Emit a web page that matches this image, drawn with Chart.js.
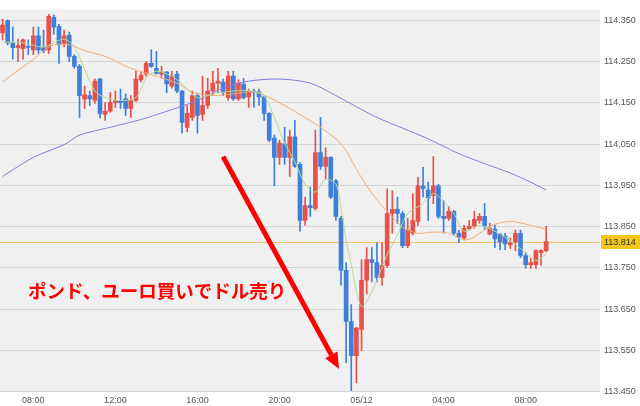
<!DOCTYPE html>
<html>
<head>
<meta charset="utf-8">
<script src="https://cdn.jsdelivr.net/npm/chart.js@4.4.1/dist/chart.umd.min.js"></script>
<style>
  html, body { margin: 0; padding: 0; background: #fff; }
</style>
</head>
<body>
<canvas id="chart" width="640" height="406"></canvas>
<script>
// 15 minute candles, USD/JPY, 06:30 -> 09:00 next day
const OPEN = [
  114.320, 114.350, 114.296, 114.284, 114.282, 114.287, 114.279, 114.313, 114.284, 114.279,
  114.358, 114.336, 114.294, 114.315, 114.263, 114.239, 114.160, 114.168, 114.156, 114.208,
  114.122, 114.130, 114.151, 114.156, 114.160, 114.137, 114.156, 114.206, 114.220, 114.246,
  114.234, 114.220, 114.225, 114.191, 114.220, 114.179, 114.091, 114.115, 114.168, 114.122,
  114.144, 114.179, 114.198, 114.201, 114.163, 114.215, 114.160, 114.196, 114.165, 114.179,
  114.177, 114.165, 114.125, 114.065, 114.018, 114.051, 114.018, 114.068, 114.001, 113.865,
  113.901, 113.894, 114.030, 113.996, 114.018, 113.961, 113.870, 113.744, 113.620, 113.537,
  113.601, 113.720, 113.770, 113.763, 113.727, 113.756, 113.882, 113.892, 113.882, 113.804,
  113.834, 113.863, 113.949, 113.939, 113.925, 113.949, 113.875, 113.870, 113.887, 113.834,
  113.823, 113.846, 113.851, 113.865, 113.875, 113.832, 113.844, 113.832, 113.827, 113.806,
  113.813, 113.834, 113.780, 113.758, 113.758, 113.787, 113.792
];
const HIGH = [
  114.353, 114.352, 114.334, 114.305, 114.305, 114.303, 114.334, 114.334, 114.327, 114.365,
  114.363, 114.341, 114.327, 114.322, 114.267, 114.244, 114.191, 114.179, 114.208, 114.210,
  114.151, 114.175, 114.179, 114.184, 114.172, 114.168, 114.227, 114.227, 114.251, 114.279,
  114.275, 114.239, 114.227, 114.227, 114.227, 114.181, 114.144, 114.179, 114.172, 114.215,
  114.210, 114.227, 114.234, 114.208, 114.227, 114.227, 114.206, 114.210, 114.184, 114.184,
  114.184, 114.168, 114.127, 114.072, 114.060, 114.091, 114.084, 114.108, 114.006, 113.922,
  113.946, 114.084, 114.115, 114.041, 114.020, 113.965, 113.875, 113.763, 113.661, 113.606,
  113.770, 113.799, 113.799, 113.811, 113.811, 113.942, 113.937, 113.922, 113.887, 113.870,
  113.930, 113.970, 113.994, 113.958, 114.020, 113.953, 113.913, 113.899, 113.889, 113.842,
  113.853, 113.865, 113.887, 113.882, 113.906, 113.858, 113.853, 113.834, 113.834, 113.823,
  113.842, 113.842, 113.787, 113.773, 113.794, 113.794, 113.851
];
const LOW = [
  114.303, 114.291, 114.256, 114.251, 114.256, 114.267, 114.267, 114.270, 114.272, 114.270,
  114.317, 114.246, 114.286, 114.251, 114.234, 114.115, 114.137, 114.144, 114.149, 114.113,
  114.108, 114.127, 114.139, 114.137, 114.120, 114.115, 114.154, 114.201, 114.215, 114.236,
  114.220, 114.210, 114.175, 114.186, 114.175, 114.077, 114.080, 114.108, 114.077, 114.108,
  114.137, 114.168, 114.175, 114.168, 114.156, 114.156, 114.156, 114.160, 114.139, 114.139,
  114.144, 114.108, 114.056, 113.949, 114.001, 114.001, 113.972, 113.994, 113.839, 113.853,
  113.875, 113.890, 113.989, 113.965, 113.918, 113.865, 113.708, 113.520, 113.452, 113.471,
  113.549, 113.687, 113.716, 113.716, 113.708, 113.751, 113.834, 113.858, 113.799, 113.799,
  113.830, 113.853, 113.922, 113.865, 113.906, 113.870, 113.834, 113.865, 113.830, 113.811,
  113.818, 113.842, 113.846, 113.858, 113.842, 113.830, 113.799, 113.794, 113.794, 113.797,
  113.792, 113.775, 113.749, 113.749, 113.749, 113.756, 113.789
];
const CLOSE = [
  114.339, 114.296, 114.284, 114.289, 114.303, 114.285, 114.313, 114.279, 114.277, 114.360,
  114.334, 114.291, 114.313, 114.263, 114.239, 114.168, 114.170, 114.160, 114.203, 114.125,
  114.130, 114.151, 114.156, 114.151, 114.137, 114.156, 114.208, 114.217, 114.246, 114.239,
  114.222, 114.225, 114.196, 114.215, 114.179, 114.103, 114.125, 114.168, 114.120, 114.144,
  114.179, 114.198, 114.203, 114.175, 114.215, 114.160, 114.198, 114.163, 114.179, 114.177,
  114.165, 114.125, 114.060, 114.018, 114.053, 114.018, 114.068, 113.996, 113.865, 113.901,
  113.896, 114.030, 113.996, 114.018, 113.922, 113.875, 113.744, 113.620, 113.537, 113.604,
  113.720, 113.770, 113.763, 113.727, 113.756, 113.882, 113.892, 113.882, 113.804, 113.842,
  113.865, 113.949, 113.942, 113.920, 113.949, 113.875, 113.870, 113.887, 113.834, 113.825,
  113.846, 113.851, 113.868, 113.875, 113.851, 113.846, 113.820, 113.813, 113.808, 113.811,
  113.834, 113.780, 113.758, 113.763, 113.792, 113.792, 113.814
];

// moving averages: [candle index, value]
const MA_FAST = [
  [0, 114.298], [4, 114.296], [8, 114.286], [12, 114.305], [14, 114.286], [16, 114.232],
  [18, 114.179], [20, 114.163], [23, 114.156], [26, 114.163], [28, 114.210], [30, 114.227],
  [33, 114.215], [35, 114.196], [38, 114.163], [41, 114.172], [45, 114.179], [49, 114.179],
  [51, 114.168], [53, 114.115], [55, 114.053], [57, 114.008], [59, 113.953], [61, 113.934],
  [63, 113.965], [65, 113.953], [66, 113.894], [67, 113.816], [68, 113.758], [69, 113.692],
  [70, 113.656], [71, 113.668], [73, 113.720], [75, 113.782], [77, 113.830], [79, 113.882],
  [82, 113.906], [84, 113.930], [86, 113.911], [88, 113.882], [90, 113.839], [93, 113.853],
  [96, 113.839], [99, 113.816], [102, 113.787], [104, 113.768], [106, 113.782]
];
const MA_MID = [
  [0, 114.201], [3, 114.229], [6, 114.256], [8, 114.277], [10, 114.291], [13, 114.291],
  [16, 114.277], [20, 114.263], [25, 114.234], [30, 114.215], [34, 114.198], [37, 114.177],
  [41, 114.168], [45, 114.172], [49, 114.177], [52, 114.163], [55, 114.144], [58, 114.122],
  [61, 114.099], [63, 114.082], [65, 114.063], [67, 114.034], [69, 113.989], [71, 113.949],
  [73, 113.915], [75, 113.887], [78, 113.849], [81, 113.834], [84, 113.837], [87, 113.834],
  [90, 113.818], [92, 113.825], [95, 113.851], [99, 113.863], [102, 113.856], [106, 113.844]
];
const MA_SLOW = [
  [0, 113.972], [6, 114.018], [12, 114.049], [15, 114.072], [21, 114.091], [27, 114.110],
  [33, 114.134], [38, 114.156], [43, 114.186], [48, 114.203], [54, 114.208], [60, 114.198],
  [65, 114.168], [69, 114.141], [73, 114.115], [78, 114.089], [83, 114.063], [89, 114.027],
  [94, 114.003], [99, 113.980], [103, 113.958], [106, 113.939]
];

const Y_TICKS = [113.45, 113.55, 113.65, 113.75, 113.85, 113.95, 114.05, 114.15, 114.25, 114.35];
const TICK_TIMES = ['08:00', '12:00', '16:00', '20:00', '00:00', '04:00'];
const DATE_LABEL = '05/12';
const CURRENT = 113.814;
const NOTE = 'ポンド、ユーロ買いでドル売り';

const START_MIN = 6 * 60 + 30;
const EMPTY_SLOTS = 10;
const labels = [];
for (let i = 0; i < OPEN.length + EMPTY_SLOTS; i++) {
  const m = (START_MIN + i * 15) % (24 * 60);
  labels.push(String(Math.floor(m / 60)).padStart(2, '0') + ':' + String(m % 60).padStart(2, '0'));
}

const RED = '#e8504a';
const BLUE = '#3f7fd9';
const colors = CLOSE.map((c, i) => c >= OPEN[i] ? RED : BLUE);

function toLine(points) {
  const arr = labels.map(() => null);
  points.forEach(([i, v]) => { arr[i] = v; });
  return arr;
}

const FONT = { family: '"Liberation Sans", Arial, sans-serif', size: 9 };

const decor = {
  id: 'decor',
  beforeDraw(chart) {
    const { ctx, chartArea: a } = chart;
    ctx.save();
    ctx.fillStyle = '#f0f0f0';
    ctx.fillRect(a.left, a.top, a.right - a.left, a.bottom - a.top);
    ctx.restore();
  },
  beforeDatasetsDraw(chart) {
    const { ctx, chartArea: a, scales } = chart;
    const y = Math.round(scales.y.getPixelForValue(CURRENT)) + 0.5;
    ctx.save();
    ctx.strokeStyle = '#f4c36c';
    ctx.lineWidth = 1;
    ctx.beginPath();
    ctx.moveTo(a.left, y);
    ctx.lineTo(a.right, y);
    ctx.stroke();
    ctx.restore();
  },
  afterDatasetsDraw(chart) {
    const { ctx, scales } = chart;
    const xs = scales.x, ys = scales.y;
    // arrow
    const x1 = xs.getPixelForValue(43), y1 = ys.getPixelForValue(114.02);
    const x2 = xs.getPixelForValue(65.6), y2 = ys.getPixelForValue(113.505);
    const ang = Math.atan2(y2 - y1, x2 - x1);
    const head = 16, half = 7;
    const bx = x2 - head * Math.cos(ang), by = y2 - head * Math.sin(ang);
    ctx.save();
    ctx.strokeStyle = '#ff0000';
    ctx.fillStyle = '#ff0000';
    ctx.lineWidth = 5;
    ctx.beginPath();
    ctx.moveTo(x1, y1);
    ctx.lineTo(bx, by);
    ctx.stroke();
    ctx.beginPath();
    ctx.moveTo(x2, y2);
    ctx.lineTo(bx + half * Math.sin(ang), by - half * Math.cos(ang));
    ctx.lineTo(bx - half * Math.sin(ang), by + half * Math.cos(ang));
    ctx.closePath();
    ctx.fill();
    // note
    ctx.font = 'bold 18.5px "Noto Sans CJK JP", sans-serif';
    ctx.textAlign = 'left';
    ctx.textBaseline = 'middle';
    ctx.fillText(NOTE, xs.getPixelForValue(4.95), ys.getPixelForValue(113.694));
    ctx.restore();
  },
  afterDraw(chart) {
    const { ctx, chartArea: a, scales } = chart;
    const y = scales.y.getPixelForValue(CURRENT);
    ctx.save();
    ctx.fillStyle = '#f6c61a';
    ctx.fillRect(a.right + 1, Math.round(y) - 7, chart.width - a.right - 1, 14);
    ctx.fillStyle = '#333';
    ctx.font = '9px ' + FONT.family;
    ctx.textAlign = 'left';
    ctx.textBaseline = 'middle';
    ctx.fillText(CURRENT.toFixed(3), a.right + 4, Math.round(y) + 0.5);
    ctx.restore();
  }
};

new Chart(document.getElementById('chart'), {
  data: {
    labels: labels,
    datasets: [
      {
        type: 'line', label: 'MA fast', data: toLine(MA_FAST), borderColor: '#b2de98',
        borderWidth: 1, pointRadius: 0, spanGaps: true, tension: 0.3, order: 1
      },
      {
        type: 'line', label: 'MA mid', data: toLine(MA_MID), borderColor: '#f3ae78',
        borderWidth: 1, pointRadius: 0, spanGaps: true, tension: 0.3, order: 1
      },
      {
        type: 'line', label: 'MA slow', data: toLine(MA_SLOW), borderColor: '#7f7fe0',
        borderWidth: 1, pointRadius: 0, spanGaps: true, tension: 0.3, order: 1
      },
      {
        type: 'bar', label: 'wick', data: LOW.map((l, i) => [l, HIGH[i]]),
        backgroundColor: colors, barThickness: 1, grouped: false, order: 3
      },
      {
        type: 'bar', label: 'body', data: OPEN.map((o, i) => [o, CLOSE[i]]),
        backgroundColor: colors, barThickness: 4, minBarLength: 1, grouped: false, order: 2
      }
    ]
  },
  options: {
    responsive: false,
    animation: false,
    devicePixelRatio: 1,
    layout: { padding: { top: 2, left: 0, right: 0, bottom: 0 } },
    plugins: { legend: { display: false }, tooltip: { enabled: false } },
    scales: {
      x: {
        offset: true,
        grid: { display: false, drawTicks: false },
        border: { display: false },
        afterFit(s) { s.height = 14; },
        ticks: {
          autoSkip: false, maxRotation: 0, minRotation: 0, padding: 3,
          color: '#555', font: FONT,
          callback(v) {
            const t = this.getLabelForValue(v);
            if (!TICK_TIMES.includes(t)) return null;
            return t === '00:00' ? DATE_LABEL : t;
          }
        }
      },
      y: {
        position: 'right',
        min: 113.449,
        max: 114.377,
        afterBuildTicks(s) { s.ticks = Y_TICKS.map(v => ({ value: v })); },
        afterFit(s) { s.width = 40; },
        grid: { color: '#d6d6d6', drawTicks: false },
        border: { display: false },
        ticks: { padding: 4, color: '#555', font: FONT, callback: v => v.toFixed(3) }
      }
    }
  },
  plugins: [decor]
});
</script>
</body>
</html>
